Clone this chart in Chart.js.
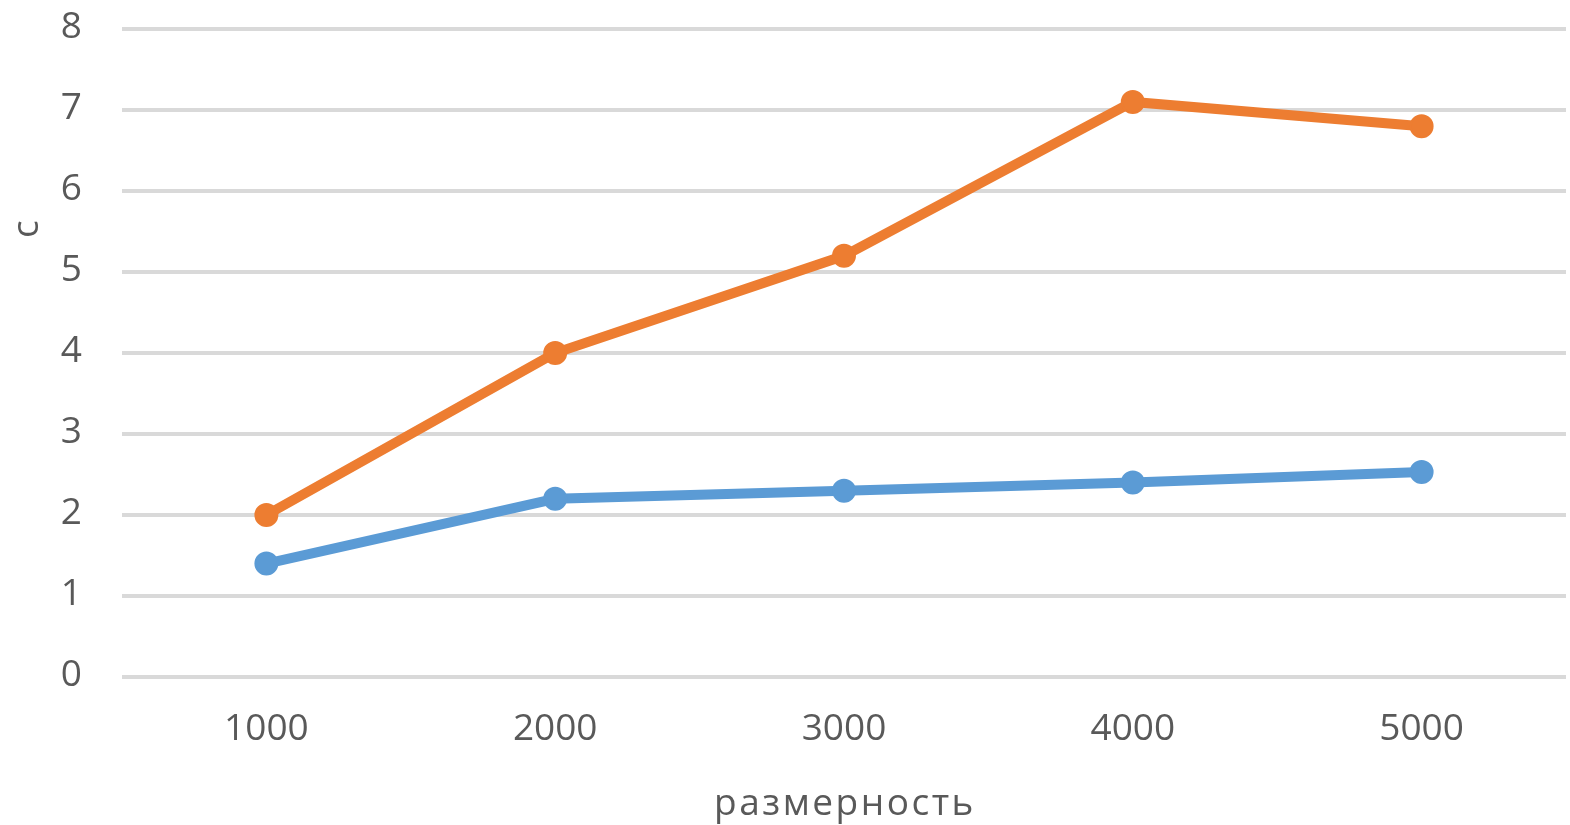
<!DOCTYPE html>
<html lang="ru">
<head>
<meta charset="utf-8">
<title>размерность</title>
<script src="https://cdn.jsdelivr.net/npm/chart.js@4/dist/chart.umd.min.js"></script>
<style>
  html, body { margin: 0; padding: 0; background: #ffffff; overflow: hidden; }
  #wrap { width: 1570px; height: 825px; }
</style>
</head>
<body>
<div id="wrap"><canvas id="chart" width="1570" height="825"></canvas></div>
<script>
// Matrix size (x categories)
const sizes = ['1000', '2000', '3000', '4000', '5000'];
// Time in seconds for the two runs
const seriesBlue = [1.4, 2.2, 2.3, 2.4, 2.53];
const seriesOrange = [2.0, 4.0, 5.2, 7.1, 6.8];
// Value axis ticks
const yTicks = [0, 1, 2, 3, 4, 5, 6, 7, 8];

const xTitle = 'размерность';
const yTitle = 'c';

const TEXT = '#595959';
const FONT = '"Open Sans", "Liberation Sans", sans-serif';

// Axis captions: the x caption is spaced out a little, the y caption sits in the upper part of the axis
const axisCaptions = {
  id: 'axisCaptions',
  afterDraw(chart) {
    const { ctx, chartArea } = chart;
    ctx.save();
    ctx.fillStyle = TEXT;
    ctx.font = '37px ' + FONT;
    ctx.textBaseline = 'alphabetic';
    ctx.textAlign = 'center';
    ctx.letterSpacing = '2.5px';
    ctx.fillText(xTitle, (chartArea.left + chartArea.right) / 2 + 1, chartArea.bottom + 138);
    ctx.letterSpacing = '0px';
    ctx.translate(38, chartArea.top + (chartArea.bottom - chartArea.top) * 0.309);
    ctx.rotate(-Math.PI / 2);
    ctx.fillText(yTitle, 0, 0);
    ctx.restore();
  }
};

const seriesStyle = (color) => ({
  borderColor: color,
  backgroundColor: color,
  pointBackgroundColor: color,
  pointBorderColor: color,
  borderWidth: 10,
  pointRadius: 11,
  pointBorderWidth: 2,
  tension: 0,
  fill: false
});

new Chart(document.getElementById('chart'), {
  type: 'line',
  data: {
    labels: sizes,
    datasets: [
      Object.assign({ label: 'ряд 1', data: seriesBlue }, seriesStyle('#5B9BD5')),
      Object.assign({ label: 'ряд 2', data: seriesOrange }, seriesStyle('#ED7D31'))
    ]
  },
  options: {
    responsive: false,
    animation: false,
    devicePixelRatio: 1,
    layout: {
      autoPadding: false,
      padding: { top: 29, right: 4, bottom: 0, left: 0 }
    },
    plugins: {
      legend: { display: false },
      tooltip: { enabled: false },
      title: { display: false }
    },
    scales: {
      x: {
        type: 'category',
        offset: true,
        grid: {
          display: true,
          drawOnChartArea: false,
          drawTicks: true,
          tickLength: 30,
          tickColor: 'rgba(0,0,0,0)',
          color: 'rgba(0,0,0,0)'
        },
        border: { display: false },
        ticks: {
          color: TEXT,
          font: { family: FONT, size: 37 },
          padding: 0,
          maxRotation: 0,
          autoSkip: false
        },
        afterFit(scale) { scale.height = 148; }
      },
      y: {
        min: yTicks[0],
        max: yTicks[yTicks.length - 1],
        afterBuildTicks(scale) { scale.ticks = yTicks.map(v => ({ value: v })); },
        grid: {
          color: '#d9d9d9',
          lineWidth: 4,
          drawTicks: true,
          tickLength: 38,
          tickColor: 'rgba(0,0,0,0)'
        },
        border: { display: false },
        ticks: {
          color: TEXT,
          font: { family: FONT, size: 37 },
          padding: 2,
          labelOffset: -2
        },
        afterFit(scale) { scale.width = 122; }
      }
    }
  },
  plugins: [axisCaptions]
});
</script>
</body>
</html>
